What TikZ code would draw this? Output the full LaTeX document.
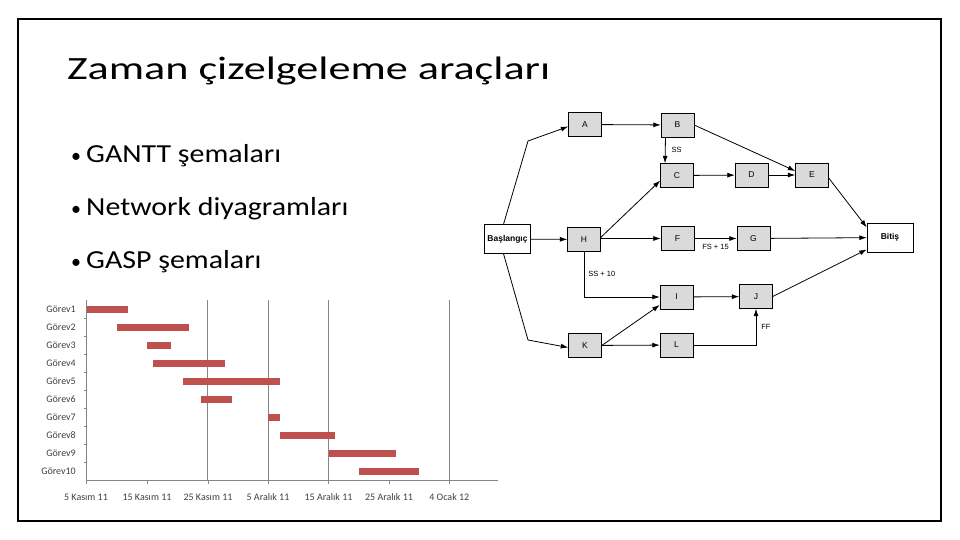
\documentclass[tikz,border=0pt]{standalone}
\usepackage{fontspec}
\setmainfont{Carlito}
\newfontfamily\netfont{Liberation Sans}
\usetikzlibrary{arrows.meta}

\definecolor{barred}{RGB}{192,80,77}
\definecolor{boxgray}{RGB}{218,218,218}
\definecolor{axisgray}{RGB}{134,134,134}

\tikzset{
  netbox/.style={draw, thin, fill=boxgray, minimum width=33pt, minimum height=24pt, inner sep=0pt, font=\netfont\fontsize{8.5}{9}\selectfont},
  netend/.style={draw, thin, fill=white, minimum width=46pt, minimum height=29pt, inner sep=0pt, font=\netfont\bfseries\fontsize{8.5}{9}\selectfont},
  netarr/.style={-{Latex[length=7.5pt,width=5pt]}, line width=0.8pt},
  netlab/.style={font=\netfont\fontsize{7.5}{8}\selectfont, inner sep=1pt},
  ganttbar/.style={fill=barred},
  ganttlab/.style={font=\fontsize{10}{11}\selectfont, text=black!75, inner sep=0pt},
  gantgrid/.style={draw=axisgray, line width=0.8pt},
  bullettext/.style={font=\fontsize{26}{30}\selectfont, anchor=base west, inner sep=0pt}
}

\begin{document}
\begin{tikzpicture}[x=1pt,y=-1pt]
        \useasboundingbox (0,0) rectangle (960,540);
        \draw[line width=2pt] (17.5,19) rectangle (941,521);

        \node[anchor=base west, inner sep=0pt, font=\fontsize{32.5}{36}\selectfont] (title) at (67,80) {\scalebox{1.36}[1]{Zaman çizelgeleme araçları}};

        \foreach \y/\txt [count=\i] in {163/GANTT şemaları, 215/Network diyagramları, 268/GASP şemaları} {
            \node[anchor=base west, inner sep=0pt, font=\fontsize{20}{24}\selectfont] (dot\i) at (71,\y) {•};
            \node[bullettext] (item\i) at (86,\y) {\scalebox{1.15}[1]{\txt}};
        }

        % Gantt
        \foreach \x in {207.7,268.3,328.3,449.3}
            \draw[gantgrid] (\x,300) -- (\x,480);
        \draw[gantgrid] (86.7,300) -- (86.7,480) -- (498,480);
        \foreach \k in {1,...,9}
            \draw[gantgrid] (86.7,{300+18*\k}) -- (83.5,{300+18*\k});
        \foreach \s/\e [count=\i] in {86.7/127.7, 117.3/189, 147/171, 153/225, 183/279.7, 201/232, 268.3/279.7, 280/335, 329/396, 359/419} {
            \fill[ganttbar] (\s,{309+18*(\i-1)-3.5}) rectangle (\e,{309+18*(\i-1)+3.5});
            \node[ganttlab, anchor=east] (g\i) at (76,{309+18*(\i-1)}) {Görev\i};
        }
        \foreach \x/\txt [count=\i] in {86/5 Kasım 11, 147/15 Kasım 11, 208/25 Kasım 11, 268/5 Aralık 11, 328.5/15 Aralık 11, 389/25 Aralık 11, 449.3/4 Ocak 12} {
            \draw[gantgrid] (\x,480) -- (\x,483.5);
            \node[ganttlab] (d\i) at (\x,497) {\txt};
        }

        % network
        \node[netend] (bas) at (507.5,239) {Başlangıç};
        \node[netend] (bit) at (890,237.5) {Bitiş};
        \node[netbox] (A) at (585,124.5) {A};
        \node[netbox] (B) at (677.5,125) {B};
        \node[netbox] (C) at (677,175.5) {C};
        \node[netbox] (D) at (751.5,175) {D};
        \node[netbox] (E) at (812,175) {E};
        \node[netbox] (H) at (584,239.5) {H};
        \node[netbox] (F) at (677.5,238.5) {F};
        \node[netbox] (G) at (753.5,238.5) {G};
        \node[netbox] (I) at (676.5,297) {I};
        \node[netbox] (J) at (756,296.5) {J};
        \node[netbox] (K) at (585,345.5) {K};
        \node[netbox] (L) at (676.5,345) {L};

        \draw[netarr] ([xshift=-4pt]bas.north) -- (528,141) -- ([yshift=-2pt]A.west);
        \draw[netarr] ([xshift=-4pt]bas.south) -- (528,340) -- ([yshift=-2pt]K.west);
        \draw[netarr] (bas) -- (H);
        \draw[netarr] (A) -- (B);
        \draw[netarr] ([xshift=-12pt]B.south) -- node[netlab, right=5pt] {SS} ([xshift=-12pt]C.north);
        \draw[netarr] (B.east) -- ([yshift=4pt]E.west);
        \draw[netarr] (C) -- (D);
        \draw[netarr] (D) -- (E);
        \draw[netarr] ([yshift=-3pt]E.east) -- ([yshift=10pt]bit.west);
        \draw[netarr] ([yshift=2pt]H.east) -- ([yshift=-5pt]C.west);
        \draw[netarr] ([yshift=1pt]H.east) -- (F.west);
        \draw[netarr] (F) -- node[netlab, below=4pt] {FS + 15} (G);
        \draw[netarr] (G) -- (bit);
        \draw[netarr] (H.south) -- node[netlab, right=3pt] {SS + 10} (H.south |- I.west) -- (I.west);
        \draw[netarr] (I) -- (J);
        \draw[netarr] (J.east) -- ([yshift=-12pt]bit.west);
        \draw[netarr] (K.east) -- ([yshift=-8pt]I.west);
        \draw[netarr] (K) -- (L);
        \draw[netarr] (L.east) -- (L.east -| J.south) -- node[netlab, right=4pt] {FF} (J.south);
    \end{tikzpicture}
\end{document}
